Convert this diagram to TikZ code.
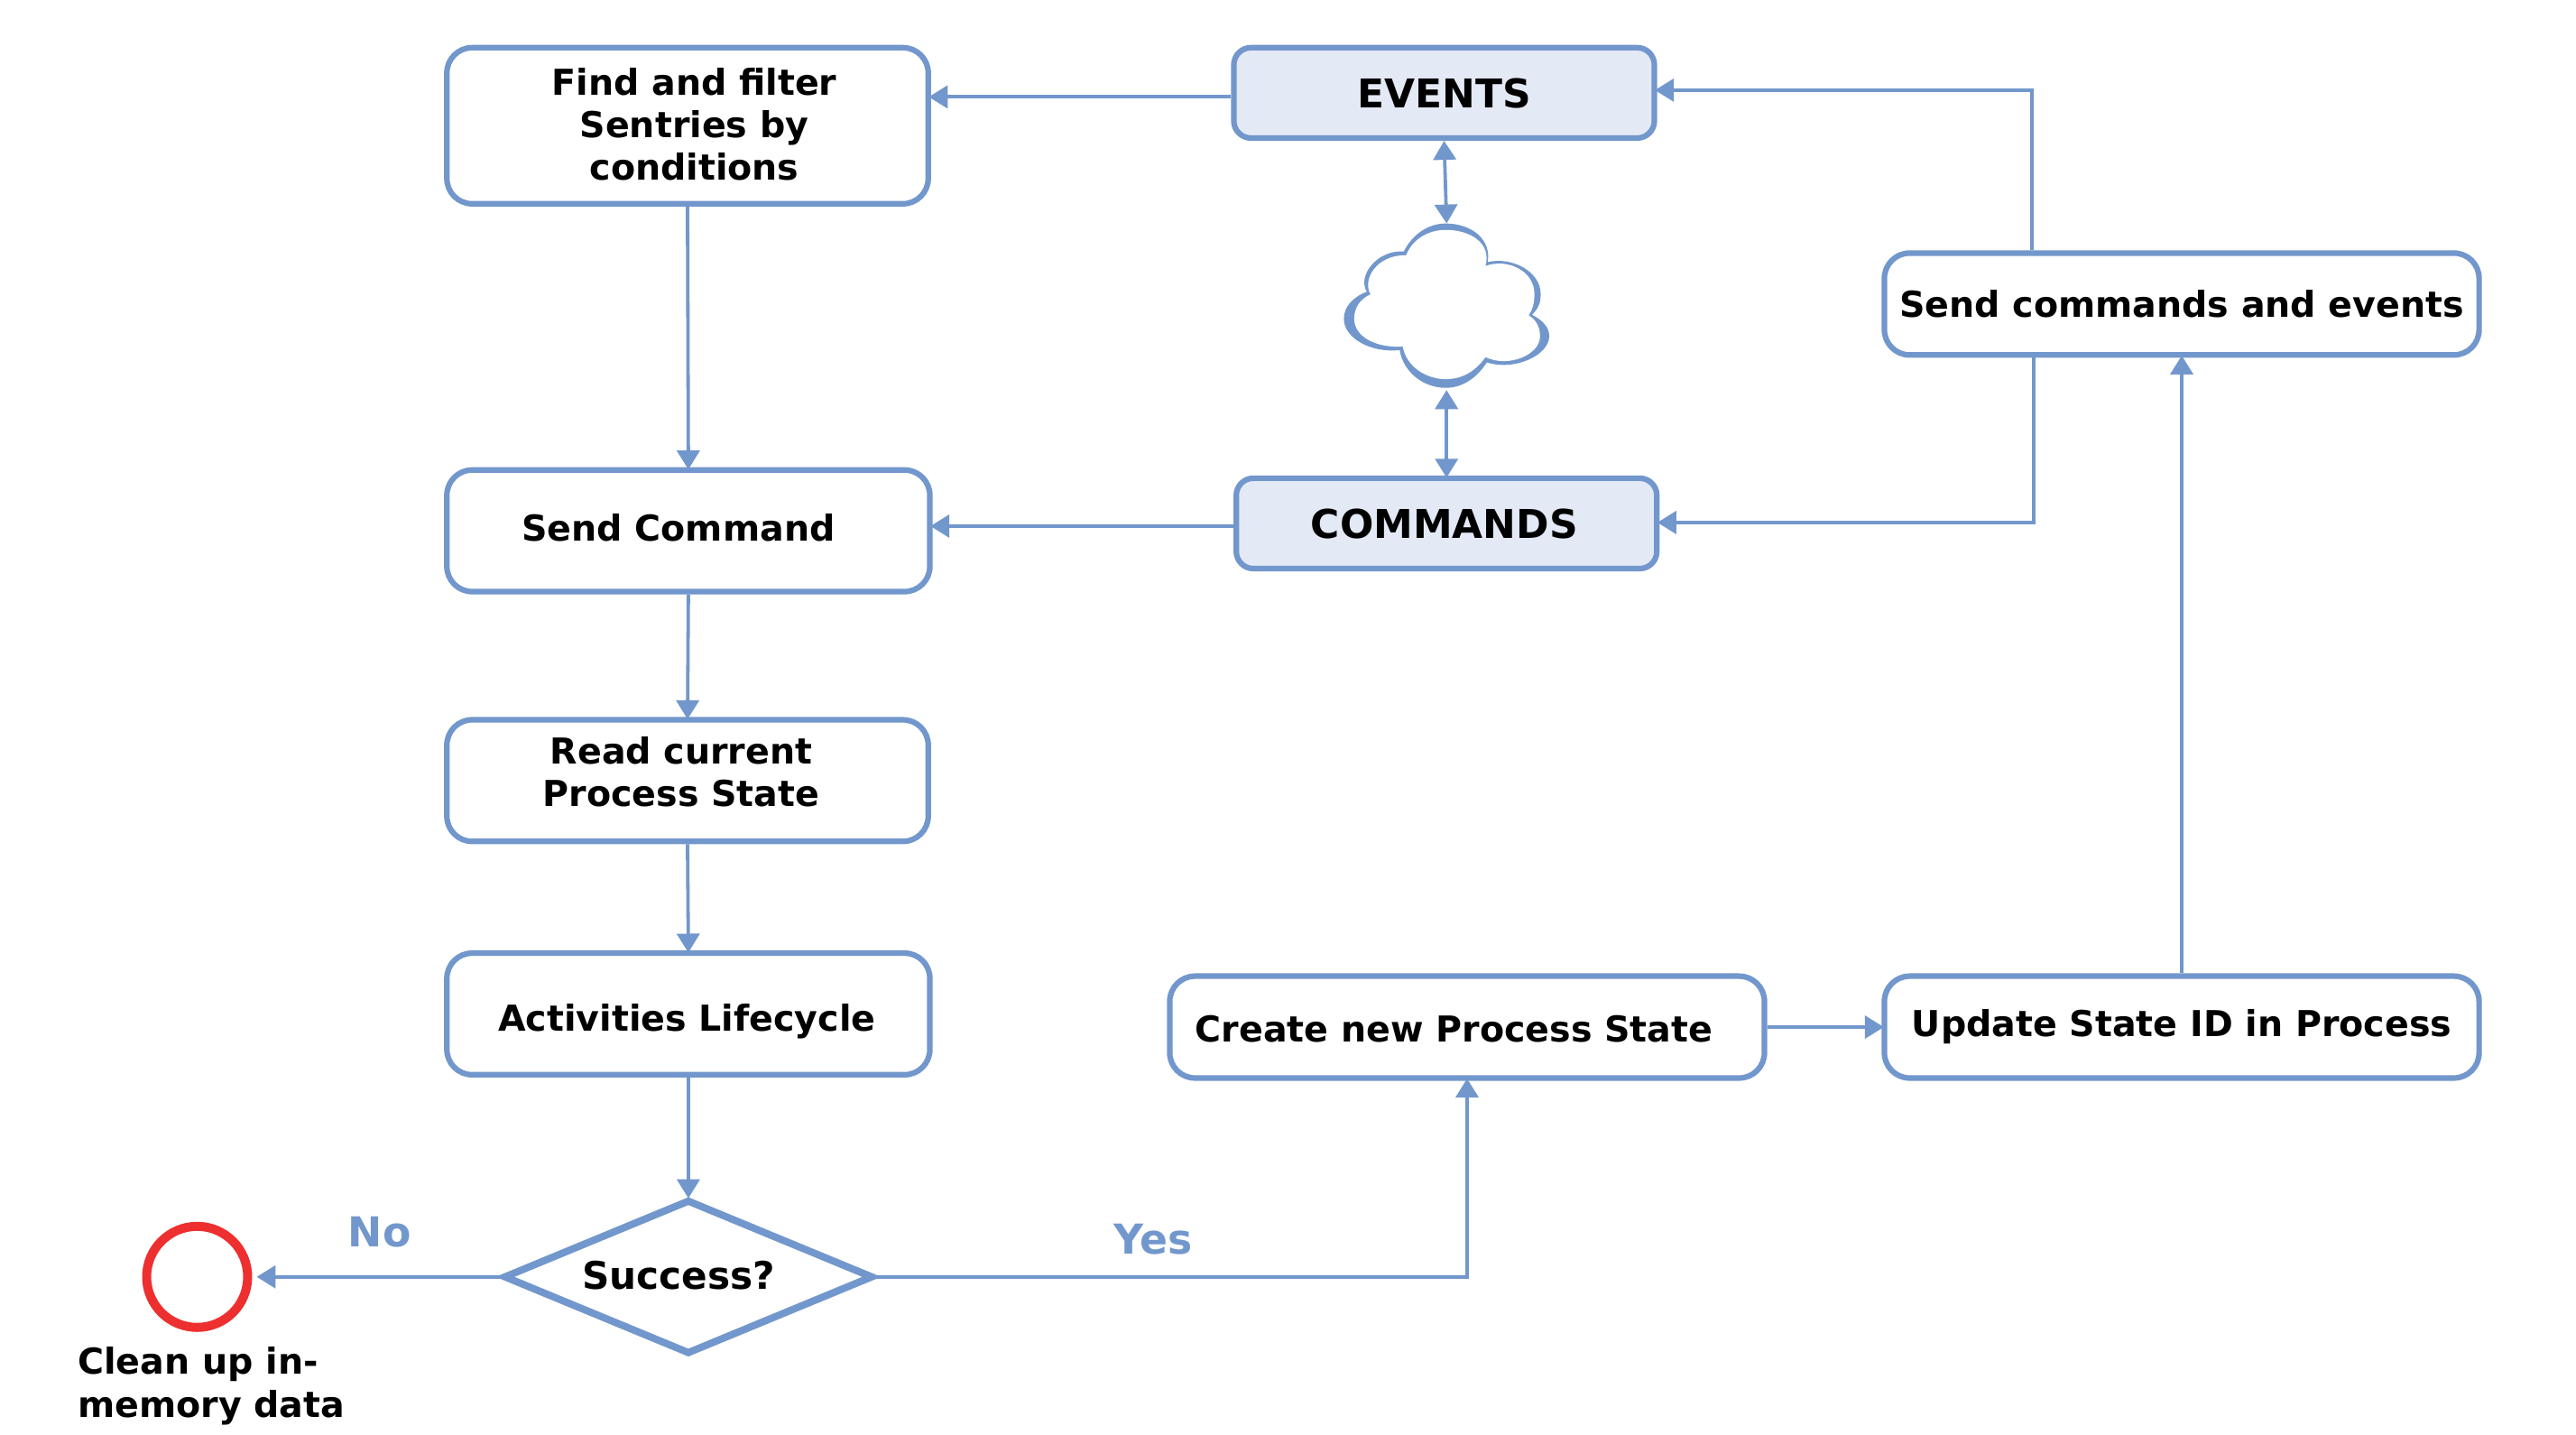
\documentclass[tikz,border=0pt]{standalone}
\usepackage{fontspec}
\setmainfont{DejaVu Sans}
\usetikzlibrary{arrows.meta,shapes.geometric}
\definecolor{flowblue}{RGB}{114,151,204}
\definecolor{queuefill}{RGB}{227,233,245}
\definecolor{endred}{RGB}{238,47,47}
\newcommand{\lines}[1]{\begin{tabular}[t]{@{}c@{}}#1\end{tabular}}
\newcommand{\nudged}[3]{\kern#1\raisebox{#2}{#3}}
\tikzset{
	boxsize/.style 2 args={minimum width=#1*0.18208mm,minimum height=#2*0.18208mm},
	flowbox/.style={draw=flowblue,line width=0.62mm,rounded corners=2.8mm,fill=white,inner sep=0pt,
		text height=0pt,text depth=0pt,font=\fontsize{11.25}{13.4}\selectfont\bfseries},
	queuebox/.style={flowbox,rounded corners=1.9mm,fill=queuefill,font=\fontsize{12.5}{13.4}\selectfont\bfseries},
	flow/.style={draw=flowblue,line width=0.38mm,shorten >=-0.25mm,-{Triangle[length=2.1mm,width=2.5mm]}},
	flowboth/.style={flow,{Triangle[length=2.1mm,width=2.5mm]}-{Triangle[length=2.1mm,width=2.5mm]}},
	answer/.style={text=flowblue,font=\fontsize{13}{13.4}\selectfont\bfseries},
}
\begin{document}
\begin{tikzpicture}[x=0.18208mm,y=-0.18208mm]
\useasboundingbox (0,0) rectangle (1568,873.2);

% left column
\node[flowbox,boxsize={293}{95}] (find) at (418.5,76.5) {\nudged{1.5mm}{3.37mm}{\lines{Find and filter\\Sentries by\\conditions}}};
\node[flowbox,boxsize={294}{74}] (send) at (419,323) {\nudged{-2.2mm}{-1.09mm}{Send Command}};
\node[flowbox,boxsize={293}{74}] (read) at (418.5,475) {\nudged{-1.4mm}{1.82mm}{\lines{Read current\\Process State}}};
\node[flowbox,boxsize={294}{74}] (lifecycle) at (419,617) {\nudged{-.3mm}{-1.93mm}{Activities Lifecycle}};
\node[diamond,draw=flowblue,line width=0.8mm,fill=white,inner sep=0pt,boxsize={225}{94},
	label={[xshift=-1.1mm,yshift=0.18mm,font=\fontsize{12}{13.4}\selectfont\bfseries]center:Success?}] (success) at (419,777) {};
\node[circle,draw=endred,line width=1mm,inner sep=0pt,minimum size=61.5*0.18208mm] (cleanup) at (120,777) {};
\node[font=\fontsize{11.25}{13.7}\selectfont\bfseries,align=left,anchor=north west,inner sep=0pt] (cleanuptext) at (47,819) {Clean up in-\\memory data};

% queues and the cloud
\node[queuebox,boxsize={256}{55}] (events) at (879,56.5) {\nudged{0mm}{-1.64mm}{EVENTS}};
\node[queuebox,boxsize={256}{55}] (commands) at (880.5,318.5) {\nudged{-0.5mm}{-1.64mm}{COMMANDS}};
\node[inner sep=0pt,boxsize={125}{102}] (cloud) at (880.5,186) {};
\fill[flowblue] (854.5,153) .. controls (860,142) and (870,136) .. (880,136) .. controls (896,136) and (908,146) .. (905.5,159.5)
	.. controls (920,156) and (937.8,165) .. (937.8,179) .. controls (937.8,185) and (936,188) .. (932.5,191.5)
	.. controls (939,195) and (943,199) .. (943,204.6) .. controls (943,216) and (922,226) .. (905,220.5)
	.. controls (899,230) and (890,236) .. (880,236) .. controls (866,236) and (854,226) .. (852,213)
	.. controls (835,215) and (818,206) .. (818,194) .. controls (818,187) and (823,181) .. (832,177.5)
	.. controls (826,168) and (838,152) .. (854.5,153) -- cycle;
\fill[white] (855.9,155.3) .. controls (860,145) and (870,139.9) .. (880,139.9) .. controls (895,139.9) and (908,148) .. (904.2,161.8)
	.. controls (918,157) and (934,165) .. (934,179) .. controls (934,184) and (933,188) .. (930.5,191.9)
	.. controls (934,194) and (937.4,198) .. (937.4,204.6) .. controls (937.4,216) and (918,224) .. (904.2,217.3)
	.. controls (898,226) and (890,230.7) .. (880,230.7) .. controls (868,230.7) and (856,223) .. (853.8,210.8)
	.. controls (838,212) and (824.3,205) .. (824.3,194) .. controls (824.3,187) and (828,182) .. (834.2,179.1)
	.. controls (829,170) and (838,155) .. (855.9,155.3) -- cycle;

% right side
\node[flowbox,boxsize={362}{62}] (publish) at (1328,185) {\nudged{0mm}{-1.46mm}{Send commands and events}};
\node[flowbox,boxsize={362}{62}] (update) at (1328,625) {\nudged{0mm}{-1.02mm}{Update State ID in Process}};
\node[flowbox,boxsize={362}{62}] (create) at (893,625) {\nudged{-2.9mm}{-1.64mm}{Create new Process State}};

% connectors
\draw[flow] (find.south) -- (send.north);
\draw[flow] (send.south) -- (read.north);
\draw[flow] (read.south) -- (lifecycle.north);
\draw[flow] (lifecycle.south) -- (success.north);
\draw[flow,shorten >=0.5mm] (success.west) -- (cleanup.east);
\draw[flow] (success.east) -- (success.east -| create.south) -- (create.south);
\draw[flow] (create.east) -- (update.west);
\draw[flow] (update.north) -- (publish.south);
\draw[flow] ([xshift=-16.6mm]publish.north) |- ([yshift=0.3mm]events.east);
\draw[flow] ([xshift=-16.4mm]publish.south) |- ([yshift=0.1mm]commands.east);
\draw[flow] ([yshift=-0.45mm]events.west) -- ([yshift=-0.45mm]events.west -| find.east);
\draw[flow] ([yshift=-0.3mm]commands.west) -- ([yshift=-0.3mm]commands.west -| send.east);
\draw[flowboth] (events.south) -- (cloud.north);
\draw[flowboth] (cloud.south) -- (commands.north);

\node[answer,inner sep=0pt] (no) at (231,750) {No};
\node[answer,inner sep=0pt] (yes) at (702,754) {Yes};
\end{tikzpicture}
\end{document}
